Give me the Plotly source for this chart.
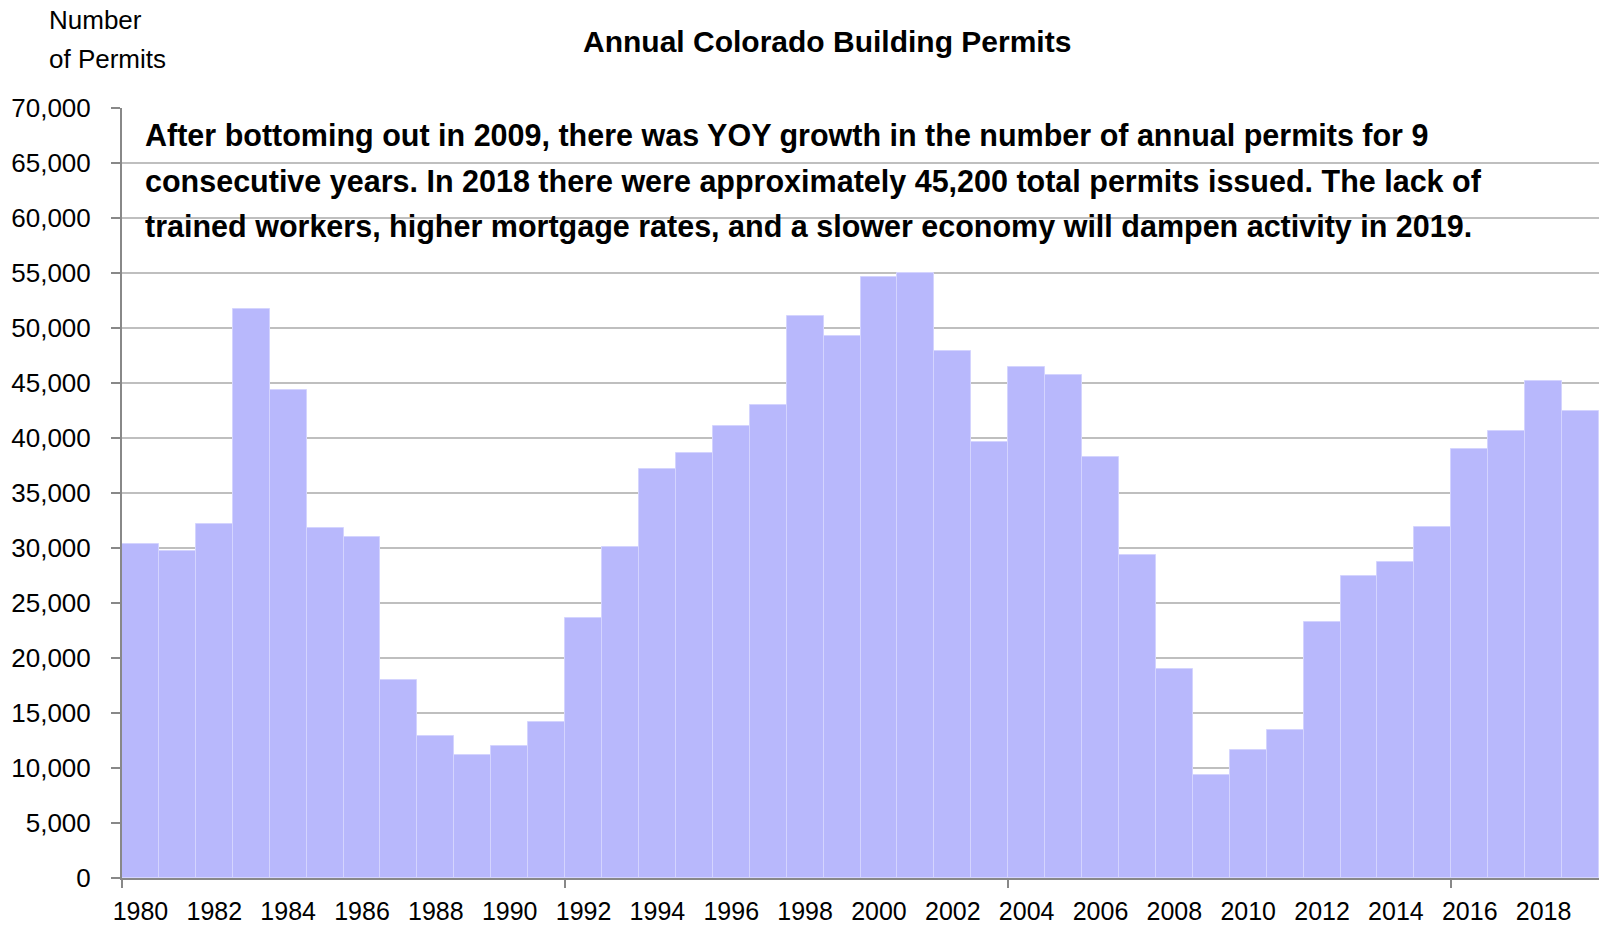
import plotly.graph_objects as go

years = list(range(1980, 2020))
permits = [30400, 29700, 32200, 51700, 44400, 31800, 31000, 18000, 12900, 11200,
           12000, 14200, 23600, 30100, 37200, 38600, 41100, 43000, 51100, 49300,
           54600, 55000, 47900, 39600, 46500, 45700, 38300, 29400, 19000, 9400,
           11600, 13500, 23300, 27500, 28700, 31900, 39000, 40600, 45200, 42500]
label_years = list(range(1980, 2019, 2))
boundary_years = [1979.5, 1991.5, 2003.5, 2015.5]
y_ticks = list(range(0, 70001, 5000))

title_text = "Annual Colorado Building Permits"
ylabel_lines = ["Number", "of Permits"]
note_lines = [
    "After bottoming out in 2009, there was YOY growth in the number of annual permits for 9",
    "consecutive years. In 2018 there were approximately 45,200 total permits issued. The lack of",
    "trained workers, higher mortgage rates, and a slower economy will dampen activity in 2019.",
]

FONT = "Liberation Sans Narrow, Arial Narrow, Liberation Sans, sans-serif"

fig = go.Figure()
fig.add_trace(go.Bar(
    x=years, y=permits, width=1,
    marker=dict(color="#B8B8FC", line=dict(color="#D4D4FE", width=1)),
    showlegend=False, hoverinfo="x+y",
))

fig.update_layout(
    width=1599, height=928,
    margin=dict(l=122, r=0, t=108, b=50, autoexpand=False),
    paper_bgcolor="white", plot_bgcolor="white",
    bargap=0,
    font=dict(family=FONT, color="black", size=26),
    xaxis=dict(
        range=[1979.5, 2019.5], automargin=False,
        tickmode="array", tickvals=label_years, ticktext=[str(y) for y in label_years],
        ticks="", showgrid=False, zeroline=False,
        showline=True, linecolor="#888888", linewidth=2,
        tickfont=dict(family=FONT, size=25, color="black"),
        ticklabelstandoff=10,
        minor=dict(tickmode="array", tickvals=boundary_years, ticks="outside",
                   ticklen=8, tickwidth=2, tickcolor="#888888", showgrid=False),
    ),
    yaxis=dict(
        range=[0, 70000], automargin=False,
        tickmode="array", tickvals=y_ticks, tickformat=",d",
        ticks="outside", ticklen=9, tickwidth=2, tickcolor="#888888",
        showline=True, linecolor="#888888", linewidth=2,
        showgrid=True, gridcolor="#BFBFBF", gridwidth=1.5,
        zeroline=False,
        tickfont=dict(family=FONT, size=26, color="black"),
        ticklabelstandoff=15,
    ),
)

fig.add_annotation(text=f"<b>{title_text}</b>", xref="paper", yref="paper",
                   x=0.477, y=1.087, xanchor="center", yanchor="middle",
                   showarrow=False, font=dict(family=FONT, size=30, color="black"))

for txt, yp in zip(ylabel_lines, [1.114, 1.063]):
    fig.add_annotation(text=txt, xref="paper", yref="paper", x=-0.0508, y=yp,
                       xanchor="left", yanchor="middle", showarrow=False,
                       font=dict(family=FONT, size=26, color="black"))

for txt, yp in zip(note_lines, [0.9642, 0.9045, 0.8462]):
    fig.add_annotation(text=f"<b>{txt}</b>", xref="paper", yref="paper", x=0.0142, y=yp,
                       xanchor="left", yanchor="middle", showarrow=False,
                       font=dict(family=FONT, size=30.5, color="black"))

fig.write_html("out.html", config={"displayModeBar": False},
               post_script="document.body.style.margin='0';document.body.style.overflow='hidden';")
